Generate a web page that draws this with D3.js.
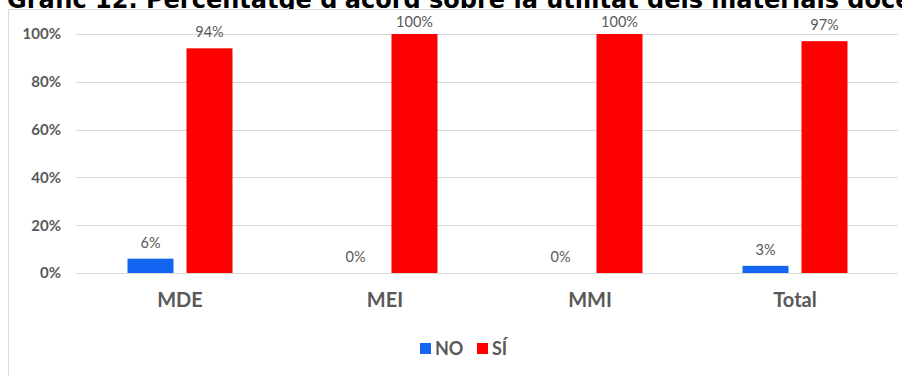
<!DOCTYPE html>
<html>
<head>
<meta charset="utf-8">
<script src="https://cdn.jsdelivr.net/npm/d3@7"></script>
<style>
  html, body { margin: 0; padding: 0; background: #fff; }
  svg { display: block; }
</style>
</head>
<body>
<svg id="chart" width="902" height="376"></svg>
<script>
const title = "Gràfic 12. Percentatge d'acord sobre la utilitat dels materials docents";
const categories = ["MDE", "MEI", "MMI", "Total"];
const seriesNames = ["NO", "SÍ"];
const valuesNO = [0.06, 0.00, 0.00, 0.03];
const valuesSI = [0.94, 1.00, 1.00, 0.97];
const yTicks = [0, 0.2, 0.4, 0.6, 0.8, 1.0];
const colors = ["#1466f2", "#ff0000"];

const svg = d3.select("#chart");

// Title (partly cut off at the top, as in the reference)
svg.append("text")
  .attr("x", 7).attr("y", 8)
  .attr("font-family", "DejaVu Sans, Verdana, sans-serif")
  .attr("font-weight", "bold")
  .attr("font-size", 24)
  .attr("fill", "#000")
  .text(title);

// chart frame
svg.append("rect")
  .attr("x", 8.5).attr("y", 9.5)
  .attr("width", 1000).attr("height", 500)
  .attr("fill", "#fff")
  .attr("stroke", "#d9d9d9");

const x0 = d3.scaleBand().domain(categories).range([77.5, 897.5]).padding(0);
const x1 = d3.scaleBand().domain(seriesNames).range([50, 155]).paddingInner(0.22).paddingOuter(0);
const y = d3.scaleLinear().domain([0, 1]).range([273, 34]);

// gridlines
svg.append("g").selectAll("line").data(yTicks).join("line")
  .attr("x1", 76).attr("x2", 898)
  .attr("y1", d => Math.round(y(d)) + 0.5)
  .attr("y2", d => Math.round(y(d)) + 0.5)
  .attr("stroke", "#d9d9d9").attr("stroke-width", 1);

// y axis labels
const yAxis = d3.axisLeft(y).tickValues(yTicks).tickFormat(d3.format(".0%")).tickSize(0).tickPadding(0);
const gy = svg.append("g").attr("transform", "translate(61,0)").call(yAxis);
gy.select(".domain").remove();
gy.selectAll("text")
  .attr("font-family", "Lato, sans-serif")
  .attr("font-weight", "bold")
  .attr("font-size", 15)
  .attr("fill", "#595959");

// x axis labels
const xAxis = d3.axisBottom(x0).tickSize(0).tickPadding(0);
const gx = svg.append("g").attr("transform", "translate(0,293)").call(xAxis);
gx.select(".domain").remove();
gx.selectAll("text")
  .attr("font-family", "Lato, sans-serif")
  .attr("font-weight", "bold")
  .attr("font-size", 20)
  .attr("fill", "#595959");

// data
const data = categories.map((c, i) => ({
  cat: c,
  vals: [{ s: "NO", v: valuesNO[i] }, { s: "SÍ", v: valuesSI[i] }]
}));

const groups = svg.append("g").selectAll("g").data(data).join("g")
  .attr("transform", d => `translate(${x0(d.cat)},0)`);

groups.selectAll("rect").data(d => d.vals).join("rect")
  .attr("x", d => x1(d.s))
  .attr("width", x1.bandwidth())
  .attr("y", d => y(d.v))
  .attr("height", d => y(0) - y(d.v))
  .attr("fill", (d, i) => colors[i]);

groups.selectAll("text.lbl").data(d => d.vals).join("text")
  .attr("class", "lbl")
  .attr("x", d => x1(d.s) + x1.bandwidth() / 2)
  .attr("y", d => Math.max(y(d.v) - 11, 27))
  .attr("text-anchor", "middle")
  .attr("font-family", "Lato, sans-serif")
  .attr("font-size", 14.5)
  .attr("fill", "#595959")
  .text(d => d3.format(".0%")(d.v));

// legend
const lg = svg.append("g");
seriesNames.forEach((s, i) => {
  const lx = i === 0 ? 420 : 477;
  lg.append("rect").attr("x", lx).attr("y", 343).attr("width", 11).attr("height", 11).attr("fill", colors[i]);
  lg.append("text").attr("x", lx + 15).attr("y", 355)
    .attr("font-family", "Lato, sans-serif")
    .attr("font-weight", "bold")
    .attr("font-size", 18)
    .attr("fill", "#595959")
    .text(s);
});
</script>
</body>
</html>
